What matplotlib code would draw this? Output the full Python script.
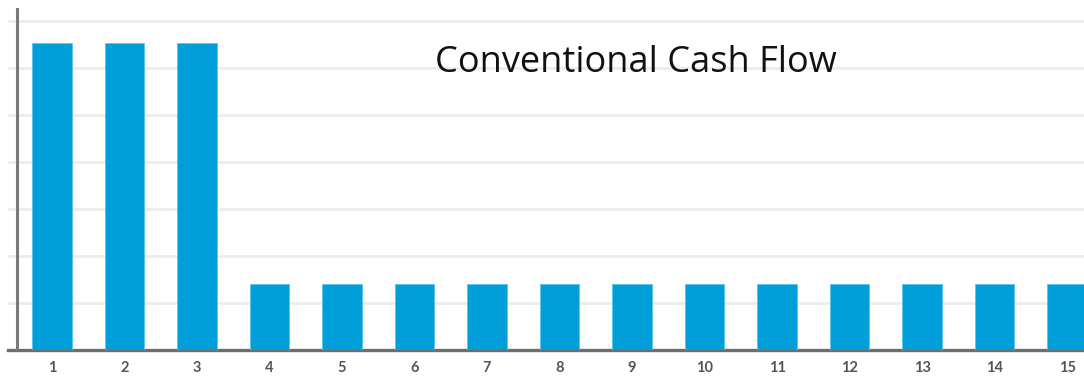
import matplotlib.pyplot as plt
import numpy as np

# data
periods = list(range(1, 16))
cash_flow = [6.53, 6.53, 6.53] + [1.40] * 12
grid_levels = [1, 2, 3, 4, 5, 6, 7]
title = "Conventional Cash Flow"

fig = plt.figure(figsize=(10.84, 3.77), dpi=100)
ax = fig.add_axes([8 / 1084, 27 / 377, 1076 / 1084, 342 / 377])

ax.bar(periods, cash_flow, width=0.55, color='#009fd9', edgecolor='#5cc3ea',
       linewidth=0.6, zorder=3)

for g in grid_levels:
    ax.axhline(g, color='#ececec', lw=2.0, zorder=1)

ax.set_xlim(0.393, 15.234)
ax.set_ylim(0, 7.28)

for s in ['top', 'right', 'left']:
    ax.spines[s].set_visible(False)
ax.spines['bottom'].set_color('#6e6e6e')
ax.spines['bottom'].set_linewidth(2.4)
ax.axvline(0.517, color='#7a7a7a', lw=2.2, zorder=4)

ax.set_yticks([])
ax.set_xticks(periods)
ax.set_xticklabels([str(p) for p in periods], fontsize=10.5, fontweight='bold',
                   color='#555555', family='Lato')
ax.tick_params(axis='x', length=0, pad=8)

fig.text(0.587, 0.833, title, fontsize=26, family=['Open Sans', 'DejaVu Sans'],
         ha='center', va='center', color='#111111')

fig.savefig('out.png', dpi=100)
